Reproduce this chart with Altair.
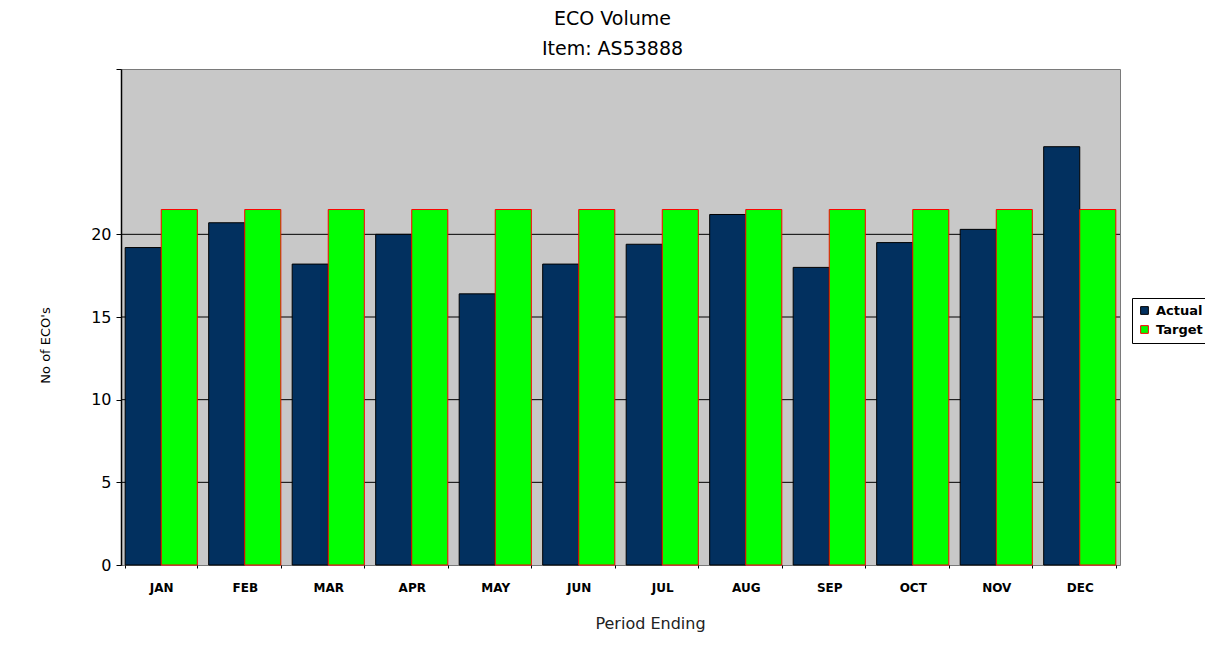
import altair as alt
import pandas as pd

months = ["JAN", "FEB", "MAR", "APR", "MAY", "JUN", "JUL", "AUG", "SEP", "OCT", "NOV", "DEC"]
actual = [19.2, 20.7, 18.2, 20.0, 16.4, 18.2, 19.4, 21.2, 18.0, 19.5, 20.3, 25.3]
target = [21.5] * 12
series = ["Actual", "Target"]
grid_values = [5, 10, 15, 20]
tick_values = [0, 5, 10, 15, 20, 30]

rows = []
for m, a, t in zip(months, actual, target):
    rows.append({"month": m, "series": "Actual", "value": a})
    rows.append({"month": m, "series": "Target", "value": t})
df = pd.DataFrame(rows)
grid_df = pd.DataFrame({"value": grid_values})

FONT = "DejaVu Sans"
W, H = 999, 496

yscale = alt.Scale(domain=[0, 30], nice=False)
y_axis = alt.Axis(
    title="No of ECO's",
    titleFont=FONT,
    titleFontSize=13,
    titleFontWeight="normal",
    titleColor="black",
    titleX=-76,
    titleY=276,
    titleAngle=270,
    titleAlign="center",
    titleBaseline="middle",
    values=tick_values,
    labelExpr="datum.value == 30 ? '' : datum.label",
    labelFont=FONT,
    labelFontSize=16,
    labelColor="black",
    labelPadding=5,
    tickSize=5,
    tickColor="black",
    domainColor="black",
    domainWidth=1.5,
    grid=False,
)

grid = alt.Chart(grid_df).mark_rule(color="black", strokeWidth=1).encode(
    y=alt.Y("value:Q", scale=yscale, axis=y_axis)
)

bars = alt.Chart(df).mark_bar(strokeWidth=1).encode(
    x=alt.X(
        "month:N",
        sort=months,
        scale=alt.Scale(paddingInner=0.136, paddingOuter=0.05),
        axis=alt.Axis(
            title="Period Ending",
            titleFont=FONT,
            titleFontSize=16,
            titleFontWeight="normal",
            titleColor="#222222",
            titleX=529,
            titleY=58,
            titleBaseline="middle",
            titleAnchor="start",
            titleAlign="center",
            labelFont=FONT,
            labelFontSize=12,
            labelFontWeight="bold",
            labelColor="black",
            labelAngle=0,
            labelPadding=14,
            domain=False,
            ticks=True,
            tickBand="extent",
            tickSize=3,
            tickColor="black",
        ),
    ),
    xOffset=alt.XOffset("series:N", sort=series, scale=alt.Scale(paddingInner=0, paddingOuter=0)),
    y=alt.Y("value:Q", scale=yscale, axis=y_axis),
    color=alt.Color(
        "series:N",
        sort=series,
        scale=alt.Scale(domain=series, range=["#02305f", "#00ff00"]),
        legend=alt.Legend(
            title=None,
            orient="none",
            legendX=1011,
            legendY=229,
            direction="vertical",
            strokeColor="black",
            fillColor="white",
            padding=6,
            symbolType="square",
            symbolSize=60,
            symbolStrokeWidth=1,
            labelFont=FONT,
            labelFontSize=13,
            labelFontWeight="bold",
            labelColor="black",
            rowPadding=5,
            labelOffset=5,
        ),
    ),
    stroke=alt.Stroke(
        "series:N",
        sort=series,
        scale=alt.Scale(domain=series, range=["#000000", "#ff0000"]),
        legend=None,
    ),
)

chart = (
    alt.layer(grid, bars)
    .properties(
        width=W,
        height=H,
        title=alt.TitleParams(
            ["ECO Volume", "Item: AS53888"],
            font=FONT,
            fontSize=19,
            fontWeight="normal",
            color="black",
            anchor="middle",
            lineHeight=30,
            offset=10,
            dx=-8,
        ),
        autosize=alt.AutoSizeParams(type="none"),
        padding={"left": 113, "top": 61, "right": 85, "bottom": 80},
        background="white",
    )
    .configure_view(fill="#c8c8c8", stroke="#7a7a7a", strokeWidth=1)
)

chart.save("out.html", embed_options={"renderer": "svg", "actions": False})
